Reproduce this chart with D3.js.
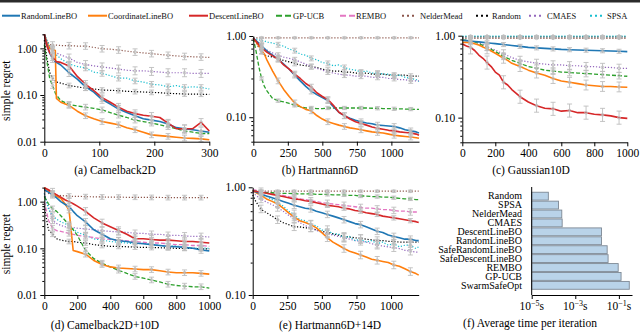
<!DOCTYPE html>
<html>
<head>
<meta charset="utf-8">
<script src="https://cdn.jsdelivr.net/npm/d3@7"></script>
<style>
  body { margin: 0; background: #fff; }
  svg { display: block; }
</style>
</head>
<body>
<svg id="chart" width="640" height="333"></svg>
<script>
// legend / series styles
const seriesNames = ["RandomLineBO", "CoordinateLineBO", "DescentLineBO", "GP-UCB", "REMBO", "NelderMead", "Random", "CMAES", "SPSA"];
const seriesColors = ["#1f77b4", "#ff7f0e", "#d62728", "#2ca02c", "#e377c2", "#8c564b", "#000000", "#9467bd", "#17becf"];
const seriesKind = ["solid", "solid", "solid", "dashed", "dashed", "dotted", "dotted", "dotted", "dotted"];
const drawOrder = ["NelderMead", "Random", "CMAES", "SPSA", "REMBO", "GP-UCB", "CoordinateLineBO", "RandomLineBO", "DescentLineBO"];

// (a) Camelback2D
const camelX = [0, 5, 10, 15, 20, 22, 30, 45, 60, 75, 90, 105, 120, 135, 150, 165, 180, 195, 210, 225, 240, 255, 270, 285, 300];
const camelY = {
  "NelderMead":       [2.0, 1.4, 1.2, 1.18, 1.17, 1.17, 1.15, 1.14, 1.12, 1.12, 1.05, 0.98, 0.96, 0.92, 0.87, 0.83, 0.80, 0.77, 0.74, 0.71, 0.69, 0.67, 0.66, 0.65, 0.64],
  "CMAES":            [2.0, 1.3, 1.05, 0.92, 0.82, 0.80, 0.72, 0.62, 0.50, 0.45, 0.42, 0.40, 0.38, 0.36, 0.34, 0.33, 0.33, 0.32, 0.31, 0.30, 0.30, 0.30, 0.29, 0.29, 0.29],
  "SPSA":             [2.0, 1.5, 1.1, 0.90, 0.75, 0.72, 0.60, 0.46, 0.41, 0.38, 0.31, 0.29, 0.26, 0.23, 0.23, 0.20, 0.19, 0.17, 0.165, 0.15, 0.16, 0.145, 0.15, 0.145, 0.135],
  "Random":           [1.5, 0.6, 0.30, 0.23, 0.20, 0.19, 0.18, 0.16, 0.15, 0.14, 0.135, 0.128, 0.126, 0.124, 0.12, 0.118, 0.116, 0.114, 0.112, 0.109, 0.107, 0.105, 0.105, 0.104, 0.103],
  "RandomLineBO":     [2.0, 1.2, 0.78, 0.60, 0.52, 0.50, 0.44, 0.30, 0.22, 0.15, 0.115, 0.080, 0.064, 0.050, 0.042, 0.036, 0.031, 0.029, 0.027, 0.024, 0.020, 0.019, 0.018, 0.017, 0.016],
  "DescentLineBO":    [2.0, 1.1, 0.80, 0.66, 0.55, 0.52, 0.50, 0.42, 0.25, 0.17, 0.125, 0.088, 0.070, 0.055, 0.045, 0.040, 0.037, 0.035, 0.033, 0.025, 0.019, 0.019, 0.019, 0.026, 0.017],
  "GP-UCB":           [1.2, 0.5, 0.22, 0.16, 0.11, 0.10, 0.076, 0.063, 0.058, 0.055, 0.052, 0.048, 0.042, 0.037, 0.033, 0.029, 0.027, 0.025, 0.023, 0.021, 0.019, 0.017, 0.016, 0.015, 0.015],
  "CoordinateLineBO": [2.0, 1.3, 1.0, 0.95, 0.90, 0.085, 0.070, 0.060, 0.045, 0.036, 0.031, 0.027, 0.025, 0.023, 0.020, 0.018, 0.016, 0.014, 0.0135, 0.013, 0.0125, 0.012, 0.0118, 0.0115, 0.011]
};
const camelErrX = [15, 45, 75, 105, 135, 165, 195, 225, 255, 285];
const camelSpread = { "NelderMead": 0.07, "CMAES": 0.085, "SPSA": 0.06, "Random": 0.05, "RandomLineBO": 0.08, "DescentLineBO": 0.08, "GP-UCB": 0.06, "CoordinateLineBO": 0.06 };

// (b) Hartmann6D
const hartX = [0, 20, 40, 60, 80, 100, 140, 180, 220, 260, 300, 340, 380, 420, 460, 500, 540, 580, 620, 660, 700, 740, 780, 820, 860, 900, 940, 980, 1020, 1060, 1100, 1140, 1180, 1200];
const hartY = {
  "NelderMead":       [0.95, 0.95, 0.95, 0.95, 0.95, 0.95, 0.95, 0.95, 0.95, 0.95, 0.95, 0.95, 0.95, 0.95, 0.95, 0.95, 0.95, 0.95, 0.95, 0.95, 0.95, 0.95, 0.95, 0.95, 0.95, 0.95, 0.95, 0.95, 0.95, 0.95, 0.95, 0.95, 0.95, 0.95],
  "Random":           [0.94, 0.85, 0.72, 0.64, 0.58, 0.57, 0.55, 0.53, 0.50, 0.48, 0.46, 0.44, 0.43, 0.42, 0.41, 0.39, 0.38, 0.37, 0.37, 0.36, 0.36, 0.35, 0.35, 0.35, 0.34, 0.34, 0.34, 0.33, 0.33, 0.33, 0.33, 0.32, 0.32, 0.32],
  "CMAES":            [0.94, 0.88, 0.80, 0.75, 0.70, 0.67, 0.62, 0.58, 0.55, 0.53, 0.51, 0.48, 0.45, 0.42, 0.40, 0.38, 0.36, 0.35, 0.34, 0.33, 0.33, 0.32, 0.32, 0.32, 0.31, 0.31, 0.31, 0.30, 0.30, 0.29, 0.29, 0.28, 0.28, 0.28],
  "SPSA":             [0.94, 0.92, 0.90, 0.87, 0.87, 0.84, 0.82, 0.78, 0.75, 0.69, 0.66, 0.60, 0.58, 0.53, 0.51, 0.47, 0.46, 0.43, 0.44, 0.41, 0.39, 0.38, 0.36, 0.37, 0.35, 0.35, 0.34, 0.34, 0.32, 0.33, 0.31, 0.30, 0.29, 0.275],
  "GP-UCB":           [0.94, 0.65, 0.42, 0.30, 0.24, 0.21, 0.17, 0.16, 0.155, 0.148, 0.14, 0.135, 0.13, 0.13, 0.128, 0.128, 0.13, 0.13, 0.13, 0.13, 0.13, 0.13, 0.13, 0.13, 0.129, 0.129, 0.128, 0.128, 0.127, 0.127, 0.126, 0.126, 0.125, 0.125],
  "RandomLineBO":     [0.94, 0.88, 0.82, 0.76, 0.70, 0.65, 0.58, 0.52, 0.45, 0.39, 0.33, 0.28, 0.24, 0.21, 0.19, 0.175, 0.16, 0.135, 0.115, 0.104, 0.097, 0.092, 0.088, 0.085, 0.083, 0.080, 0.079, 0.078, 0.077, 0.074, 0.070, 0.068, 0.066, 0.064],
  "DescentLineBO":    [0.94, 0.86, 0.78, 0.72, 0.67, 0.63, 0.57, 0.52, 0.44, 0.39, 0.34, 0.30, 0.26, 0.235, 0.20, 0.18, 0.165, 0.14, 0.115, 0.105, 0.095, 0.088, 0.084, 0.080, 0.076, 0.073, 0.071, 0.069, 0.068, 0.066, 0.065, 0.064, 0.062, 0.060],
  "CoordinateLineBO": [0.94, 0.85, 0.75, 0.66, 0.60, 0.50, 0.37, 0.28, 0.22, 0.18, 0.15, 0.135, 0.125, 0.12, 0.105, 0.095, 0.088, 0.084, 0.080, 0.077, 0.074, 0.072, 0.070, 0.068, 0.066, 0.065, 0.064, 0.062, 0.060, 0.059, 0.058, 0.057, 0.056, 0.055]
};
const hartErrX = [60, 180, 300, 420, 540, 660, 780, 900, 1020, 1140];
const hartSpread = { "NelderMead": 0.01, "Random": 0.03, "CMAES": 0.03, "SPSA": 0.03, "GP-UCB": 0.02, "RandomLineBO": 0.035, "DescentLineBO": 0.035, "CoordinateLineBO": 0.035 };

// (c) Gaussian10D
const gaussX = [0, 25, 50, 75, 100, 125, 150, 175, 200, 225, 250, 275, 300, 350, 400, 450, 500, 550, 600, 650, 700, 750, 800, 850, 900, 950, 1000];
const gaussY = {
  "NelderMead":       [0.93, 0.93, 0.93, 0.93, 0.93, 0.93, 0.93, 0.93, 0.93, 0.93, 0.93, 0.93, 0.93, 0.93, 0.93, 0.93, 0.93, 0.93, 0.93, 0.93, 0.93, 0.93, 0.93, 0.93, 0.93, 0.93, 0.93],
  "Random":           [0.97, 0.97, 0.97, 0.97, 0.97, 0.97, 0.97, 0.97, 0.97, 0.97, 0.97, 0.97, 0.97, 0.97, 0.97, 0.97, 0.97, 0.97, 0.97, 0.97, 0.97, 0.97, 0.97, 0.97, 0.97, 0.97, 0.97],
  "SPSA":             [0.99, 0.99, 0.99, 0.99, 0.99, 0.99, 0.99, 0.99, 0.99, 0.99, 0.99, 0.99, 0.99, 0.99, 0.99, 0.99, 0.99, 0.99, 0.99, 0.99, 0.99, 0.99, 0.99, 0.99, 0.99, 0.99, 0.99],
  "CMAES":            [0.88, 0.88, 0.87, 0.85, 0.82, 0.78, 0.74, 0.70, 0.67, 0.63, 0.60, 0.57, 0.54, 0.50, 0.48, 0.46, 0.45, 0.44, 0.44, 0.43, 0.43, 0.42, 0.42, 0.41, 0.41, 0.40, 0.40],
  "GP-UCB":           [0.88, 0.88, 0.87, 0.84, 0.80, 0.76, 0.72, 0.68, 0.64, 0.60, 0.56, 0.53, 0.50, 0.46, 0.42, 0.40, 0.38, 0.37, 0.36, 0.355, 0.35, 0.345, 0.34, 0.335, 0.33, 0.325, 0.32],
  "RandomLineBO":     [0.88, 0.87, 0.86, 0.85, 0.84, 0.83, 0.82, 0.81, 0.80, 0.79, 0.78, 0.77, 0.76, 0.74, 0.72, 0.71, 0.70, 0.69, 0.68, 0.675, 0.67, 0.665, 0.66, 0.655, 0.65, 0.645, 0.64],
  "CoordinateLineBO": [0.83, 0.83, 0.82, 0.80, 0.77, 0.73, 0.69, 0.65, 0.61, 0.57, 0.53, 0.50, 0.46, 0.42, 0.38, 0.35, 0.33, 0.30, 0.28, 0.27, 0.26, 0.25, 0.245, 0.24, 0.24, 0.237, 0.235],
  "DescentLineBO":    [0.79, 0.75, 0.72, 0.66, 0.58, 0.53, 0.47, 0.42, 0.36, 0.33, 0.27, 0.25, 0.22, 0.18, 0.155, 0.14, 0.13, 0.128, 0.12, 0.122, 0.115, 0.115, 0.11, 0.108, 0.105, 0.10, 0.098]
};
const gaussErrX = [50, 150, 250, 350, 450, 550, 650, 750, 850, 950];
const gaussSpread = { "NelderMead": 0.005, "Random": 0.005, "SPSA": 0.005, "CMAES": 0.05, "GP-UCB": 0.04, "RandomLineBO": 0.025, "CoordinateLineBO": 0.06, "DescentLineBO": 0.08 };

// (d) Camelback2D+10D
const camel10X = [0, 25, 50, 75, 100, 125, 150, 175, 200, 250, 300, 350, 400, 450, 500, 550, 600, 650, 700, 750, 800, 850, 900, 950, 1000];
const camel10Y = {
  "NelderMead":       [1.9, 1.5, 1.4, 1.38, 1.35, 1.33, 1.32, 1.30, 1.30, 1.28, 1.27, 1.26, 1.25, 1.25, 1.24, 1.24, 1.23, 1.23, 1.23, 1.22, 1.22, 1.22, 1.22, 1.22, 1.22],
  "CMAES":            [1.5, 0.8, 0.40, 0.34, 0.31, 0.29, 0.28, 0.28, 0.27, 0.26, 0.25, 0.24, 0.23, 0.225, 0.22, 0.21, 0.21, 0.20, 0.20, 0.19, 0.19, 0.185, 0.18, 0.18, 0.175],
  "REMBO":            [1.0, 0.4, 0.27, 0.24, 0.23, 0.22, 0.21, 0.20, 0.19, 0.18, 0.17, 0.16, 0.155, 0.15, 0.145, 0.14, 0.135, 0.13, 0.13, 0.125, 0.12, 0.12, 0.115, 0.115, 0.11],
  "Random":           [0.8, 0.25, 0.20, 0.16, 0.15, 0.145, 0.14, 0.14, 0.135, 0.13, 0.12, 0.115, 0.11, 0.11, 0.108, 0.106, 0.105, 0.104, 0.103, 0.102, 0.10, 0.10, 0.10, 0.098, 0.097],
  "SPSA":             [1.5, 0.7, 0.50, 0.42, 0.37, 0.34, 0.30, 0.26, 0.22, 0.19, 0.16, 0.15, 0.14, 0.135, 0.13, 0.125, 0.128, 0.12, 0.115, 0.11, 0.113, 0.105, 0.10, 0.102, 0.10],
  "RandomLineBO":     [1.8, 1.6, 1.4, 1.2, 1.0, 0.88, 0.78, 0.62, 0.50, 0.37, 0.25, 0.20, 0.16, 0.145, 0.14, 0.13, 0.125, 0.12, 0.115, 0.11, 0.108, 0.105, 0.10, 0.092, 0.088],
  "DescentLineBO":    [2.0, 1.8, 1.6, 1.4, 1.25, 1.1, 1.0, 0.9, 0.80, 0.62, 0.45, 0.35, 0.29, 0.24, 0.20, 0.16, 0.16, 0.155, 0.15, 0.15, 0.145, 0.14, 0.14, 0.135, 0.13],
  "GP-UCB":           [1.3, 0.9, 0.70, 0.62, 0.50, 0.40, 0.32, 0.25, 0.19, 0.09, 0.06, 0.048, 0.040, 0.034, 0.029, 0.025, 0.023, 0.021, 0.019, 0.017, 0.016, 0.0155, 0.015, 0.015, 0.014],
  "CoordinateLineBO": [2.0, 1.7, 1.5, 1.3, 1.18, 0.9, 0.66, 0.09, 0.085, 0.075, 0.055, 0.045, 0.040, 0.038, 0.037, 0.036, 0.035, 0.035, 0.033, 0.031, 0.030, 0.030, 0.030, 0.029, 0.028]
};
const camel10ErrX = [50, 150, 250, 350, 450, 550, 650, 750, 850, 950];
const camel10Spread = { "NelderMead": 0.05, "CMAES": 0.07, "REMBO": 0.06, "Random": 0.05, "SPSA": 0.06, "RandomLineBO": 0.07, "DescentLineBO": 0.08, "GP-UCB": 0.06, "CoordinateLineBO": 0.06 };

// (e) Hartmann6D+14D
const hart14X = [0, 20, 40, 60, 80, 100, 140, 180, 220, 260, 300, 340, 380, 420, 460, 500, 540, 580, 620, 660, 700, 740, 780, 820, 860, 900, 940, 980, 1020, 1060, 1100, 1140, 1180, 1200];
const hart14Y = {
  "NelderMead":       [0.92, 0.92, 0.92, 0.92, 0.92, 0.92, 0.92, 0.92, 0.92, 0.92, 0.92, 0.92, 0.92, 0.92, 0.92, 0.92, 0.92, 0.92, 0.92, 0.92, 0.92, 0.92, 0.92, 0.92, 0.92, 0.92, 0.92, 0.92, 0.92, 0.92, 0.92, 0.92, 0.92, 0.92],
  "GP-UCB":           [0.93, 0.92, 0.91, 0.90, 0.90, 0.89, 0.89, 0.88, 0.88, 0.88, 0.87, 0.87, 0.87, 0.87, 0.86, 0.86, 0.86, 0.85, 0.85, 0.85, 0.84, 0.84, 0.83, 0.83, 0.82, 0.82, 0.81, 0.81, 0.80, 0.79, 0.78, 0.78, 0.77, 0.77],
  "REMBO":            [0.95, 0.94, 0.93, 0.92, 0.91, 0.90, 0.88, 0.86, 0.84, 0.82, 0.80, 0.78, 0.77, 0.75, 0.74, 0.72, 0.71, 0.70, 0.69, 0.68, 0.67, 0.66, 0.65, 0.64, 0.64, 0.63, 0.62, 0.62, 0.61, 0.60, 0.60, 0.59, 0.59, 0.59],
  "DescentLineBO":    [0.93, 0.92, 0.91, 0.90, 0.89, 0.88, 0.86, 0.84, 0.82, 0.80, 0.78, 0.77, 0.75, 0.74, 0.72, 0.70, 0.68, 0.67, 0.66, 0.64, 0.63, 0.61, 0.60, 0.58, 0.57, 0.56, 0.54, 0.53, 0.52, 0.51, 0.50, 0.49, 0.48, 0.47],
  "RandomLineBO":     [0.93, 0.91, 0.89, 0.87, 0.85, 0.83, 0.80, 0.77, 0.74, 0.71, 0.68, 0.66, 0.64, 0.63, 0.60, 0.58, 0.56, 0.54, 0.52, 0.50, 0.48, 0.46, 0.45, 0.43, 0.41, 0.39, 0.38, 0.36, 0.35, 0.34, 0.33, 0.33, 0.32, 0.32],
  "Random":           [0.85, 0.75, 0.68, 0.63, 0.60, 0.58, 0.54, 0.50, 0.47, 0.45, 0.43, 0.43, 0.42, 0.42, 0.40, 0.39, 0.38, 0.37, 0.36, 0.35, 0.345, 0.34, 0.335, 0.33, 0.325, 0.32, 0.32, 0.315, 0.315, 0.31, 0.31, 0.31, 0.31, 0.31],
  "CMAES":            [0.90, 0.85, 0.81, 0.78, 0.75, 0.73, 0.69, 0.65, 0.60, 0.55, 0.51, 0.47, 0.44, 0.42, 0.40, 0.38, 0.37, 0.36, 0.35, 0.34, 0.33, 0.32, 0.315, 0.31, 0.30, 0.29, 0.285, 0.28, 0.275, 0.27, 0.26, 0.255, 0.25, 0.25],
  "SPSA":             [0.93, 0.90, 0.88, 0.86, 0.83, 0.82, 0.77, 0.72, 0.67, 0.60, 0.56, 0.50, 0.49, 0.45, 0.44, 0.40, 0.40, 0.37, 0.37, 0.34, 0.35, 0.32, 0.33, 0.31, 0.32, 0.30, 0.31, 0.29, 0.30, 0.28, 0.29, 0.29, 0.27, 0.28],
  "CoordinateLineBO": [0.93, 0.90, 0.87, 0.84, 0.81, 0.78, 0.74, 0.70, 0.64, 0.58, 0.53, 0.49, 0.47, 0.45, 0.42, 0.38, 0.34, 0.31, 0.29, 0.27, 0.255, 0.245, 0.235, 0.225, 0.215, 0.21, 0.205, 0.20, 0.19, 0.185, 0.175, 0.165, 0.158, 0.153]
};
const hart14ErrX = [60, 180, 300, 420, 540, 660, 780, 900, 1020, 1140];
const hart14Spread = { "NelderMead": 0.01, "GP-UCB": 0.015, "REMBO": 0.03, "DescentLineBO": 0.02, "RandomLineBO": 0.03, "Random": 0.035, "CMAES": 0.035, "SPSA": 0.04, "CoordinateLineBO": 0.035 };

// (f) Average time per iteration (seconds)
const timeMethods = ["Random", "SPSA", "NelderMead", "CMAES", "DescentLineBO", "RandomLineBO", "SafeRandomLineBO", "SafeDescentLineBO", "REMBO", "GP-UCB", "SwarmSafeOpt"];
const timeValues = [5.8e-5, 1.7e-4, 2.4e-4, 2.5e-4, 0.016, 0.016, 0.029, 0.032, 0.093, 0.126, 0.30];
const timeTicks = [-5, -3, -1];

const FONT = "'Liberation Serif', 'Times New Roman', serif";
const svg = d3.select("#chart");

svg.append("rect").attr("x", 0).attr("y", 0).attr("width", 640).attr("height", 2.5).attr("fill", "#2b2b2b");

function styleLine(sel, name, legend) {
  const i = seriesNames.indexOf(name);
  const kind = seriesKind[i];
  sel.attr("fill", "none").attr("stroke", seriesColors[i]);
  if (kind === "solid") {
    sel.attr("stroke-width", legend ? 2 : 1.6);
  } else if (kind === "dashed") {
    sel.attr("stroke-width", legend ? 2 : 1.3).attr("stroke-dasharray", legend ? "6,3" : "4,2");
  } else {
    sel.attr("stroke-width", legend ? 2 : 1.2).attr("stroke-dasharray", legend ? "2,3" : "1.2,1.8");
  }
  sel.attr("stroke-linejoin", "round");
}

// legend
const legendPos = [[2, 21], [88, 108], [189, 209], [276, 293], [340, 356], [402, 420], [476, 492], [529, 547], [590, 607]];
const legendLen = [18, 19, 19, 15, 15, 12, 12, 12, 12];
seriesNames.forEach((name, i) => {
  const [lx, tx] = legendPos[i];
  svg.append("line")
    .attr("x1", lx).attr("x2", lx + legendLen[i])
    .attr("y1", 15.7).attr("y2", 15.7)
    .call(styleLine, name, true);
  svg.append("text")
    .attr("x", tx).attr("y", 18.8)
    .attr("font-family", FONT).attr("font-size", 8.5)
    .attr("fill", "#111")
    .text(name);
});

const panels = [
  {title: "(a) Camelback2D", xs: camelX, ys: camelY, errX: camelErrX, spread: camelSpread,
   xDom: [0, 300], xRange: [44.3, 209.3], yDom: [0.01, 2.05], yRange: [141.7, 33.8],
   xTicks: [0, 100, 200, 300], titleX: 115, titleY: 174, yLabel: true},
  {title: "(b) Hartmann6D", xs: hartX, ys: hartY, errX: hartErrX, spread: hartSpread,
   xDom: [0, 1200], xRange: [253.3, 419], yDom: [0.05, 1], yRange: [141.7, 36],
   xTicks: [0, 250, 500, 750, 1000], titleX: 320, titleY: 174},
  {title: "(c) Gaussian10D", xs: gaussX, ys: gaussY, errX: gaussErrX, spread: gaussSpread,
   xDom: [0, 1000], xRange: [462.3, 627.3], yDom: [0.05, 1], yRange: [142.3, 35.7],
   xTicks: [0, 200, 400, 600, 800, 1000], titleX: 531, titleY: 174},
  {title: "(d) Camelback2D+10D", xs: camel10X, ys: camel10Y, errX: camel10ErrX, spread: camel10Spread,
   xDom: [0, 1000], xRange: [44.3, 209.3], yDom: [0.01, 2.05], yRange: [295, 187.1],
   xTicks: [0, 200, 400, 600, 800, 1000], titleX: 105, titleY: 329, yLabel: true},
  {title: "(e) Hartmann6D+14D", xs: hart14X, ys: hart14Y, errX: hart14ErrX, spread: hart14Spread,
   xDom: [0, 1200], xRange: [252.7, 418.7], yDom: [0.1, 1], yRange: [295, 187.3],
   xTicks: [0, 250, 500, 750, 1000], titleX: 330, titleY: 329}
];

panels.forEach(p => {
  const x = d3.scaleLinear().domain(p.xDom).range(p.xRange);
  const y = d3.scaleLog().domain(p.yDom).range(p.yRange);
  const g = svg.append("g");

  const names = drawOrder.filter(n => p.ys[n]);
  names.forEach(name => {
    const vals = p.ys[name];
    const line = d3.line()
      .x((d, i) => x(p.xs[i]))
      .y(d => y(d));
    g.append("path").attr("d", line(vals)).call(styleLine, name, false);
  });

  // error bars
  const eg = g.append("g").attr("stroke", "#bdbdbd").attr("fill", "none").attr("stroke-width", 0.9);
  names.forEach(name => {
    const s = Math.pow(10, p.spread[name]);
    p.errX.forEach(ex => {
      const v = p.ys[name][p.xs.indexOf(ex)];
      const lo = Math.max(v / s, p.yDom[0]), hi = Math.min(v * s, p.yDom[1]);
      const cx = x(ex);
      eg.append("line").attr("x1", cx).attr("x2", cx).attr("y1", y(lo)).attr("y2", y(hi));
      eg.append("line").attr("x1", cx - 2.5).attr("x2", cx + 2.5).attr("y1", y(lo)).attr("y2", y(lo));
      eg.append("line").attr("x1", cx - 2.5).attr("x2", cx + 2.5).attr("y1", y(hi)).attr("y2", y(hi));
      eg.append("circle").attr("cx", cx).attr("cy", y(v)).attr("r", 1.4);
    });
  });

  // axes
  const majors = y.ticks().filter(t => Math.abs(Math.log10(t) - Math.round(Math.log10(t))) < 1e-9);
  const minors = y.ticks().filter(t => majors.indexOf(t) < 0);
  g.append("g")
    .attr("transform", `translate(${p.xRange[0]},0)`)
    .call(d3.axisLeft(y).tickValues(minors).tickSize(2).tickFormat("").tickSizeOuter(0))
    .call(a => a.select(".domain").remove());
  const yAxis = g.append("g")
    .attr("transform", `translate(${p.xRange[0]},0)`)
    .call(d3.axisLeft(y).tickValues(majors).tickSize(4).tickSizeOuter(0).tickPadding(3).tickFormat(d3.format(".2f")));
  const xAxis = g.append("g")
    .attr("transform", `translate(0,${p.yRange[0]})`)
    .call(d3.axisBottom(x).tickValues(p.xTicks).tickSize(4).tickSizeOuter(0).tickPadding(3).tickFormat(d3.format("d")));
  [yAxis, xAxis].forEach(a => {
    a.attr("font-family", FONT).attr("font-size", 11.5);
    a.selectAll("text").attr("fill", "#000");
    a.selectAll("line, path").attr("stroke", "#000");
  });

  g.append("text")
    .attr("x", p.titleX).attr("y", p.titleY)
    .attr("text-anchor", "middle")
    .attr("font-family", FONT).attr("font-size", 11.5)
    .text(p.title);

  if (p.yLabel) {
    const cy = (p.yRange[0] + p.yRange[1]) / 2 + 3;
    g.append("text")
      .attr("transform", `translate(10,${cy}) rotate(-90)`)
      .attr("text-anchor", "middle")
      .attr("font-family", FONT).attr("font-size", 11.5)
      .text("simple regret");
  }
});

// (f) bar chart
{
  const x = d3.scaleLog().domain([1e-5, 0.4]).range([531.7, 632]);
  const y = d3.scaleBand().domain(timeMethods).range([191.7, 289.8]).paddingInner(0.12).paddingOuter(0.06);
  const g = svg.append("g");
  g.selectAll("rect").data(timeMethods).join("rect")
    .attr("x", x(1e-5))
    .attr("y", d => y(d))
    .attr("width", (d, i) => x(timeValues[i]) - x(1e-5))
    .attr("height", y.bandwidth())
    .attr("fill", "#b9d3e9")
    .attr("stroke", "#7d8894")
    .attr("stroke-width", 0.9);

  g.selectAll("text.cat").data(timeMethods).join("text")
    .attr("class", "cat")
    .attr("x", 522)
    .attr("y", d => y(d) + y.bandwidth() / 2 + 3.3)
    .attr("text-anchor", "end")
    .attr("font-family", FONT).attr("font-size", 10)
    .attr("fill", "#000")
    .text(d => d);

  g.append("line").attr("x1", 531.7).attr("x2", 531.7).attr("y1", 187).attr("y2", 295).attr("stroke", "#000");
  const xAxis = g.append("g")
    .attr("transform", "translate(0,295)")
    .call(d3.axisBottom(x).tickValues(timeTicks.map(e => Math.pow(10, e))).tickSize(4).tickSizeOuter(0).tickFormat(""));
  xAxis.selectAll("line, path").attr("stroke", "#000");

  timeTicks.forEach(e => {
    const t = g.append("text")
      .attr("x", x(Math.pow(10, e))).attr("y", 310)
      .attr("text-anchor", "middle")
      .attr("font-family", FONT).attr("font-size", 11.5);
    t.append("tspan").text("10");
    t.append("tspan").attr("dy", -4.5).attr("font-size", 8).text("\u2212" + Math.abs(e));
    t.append("tspan").attr("dy", 4.5).text("s");
  });

  g.append("text")
    .attr("x", 530).attr("y", 327)
    .attr("text-anchor", "middle")
    .attr("font-family", FONT).attr("font-size", 11.5)
    .text("(f) Average time per iteration");
}
</script>
</body>
</html>
